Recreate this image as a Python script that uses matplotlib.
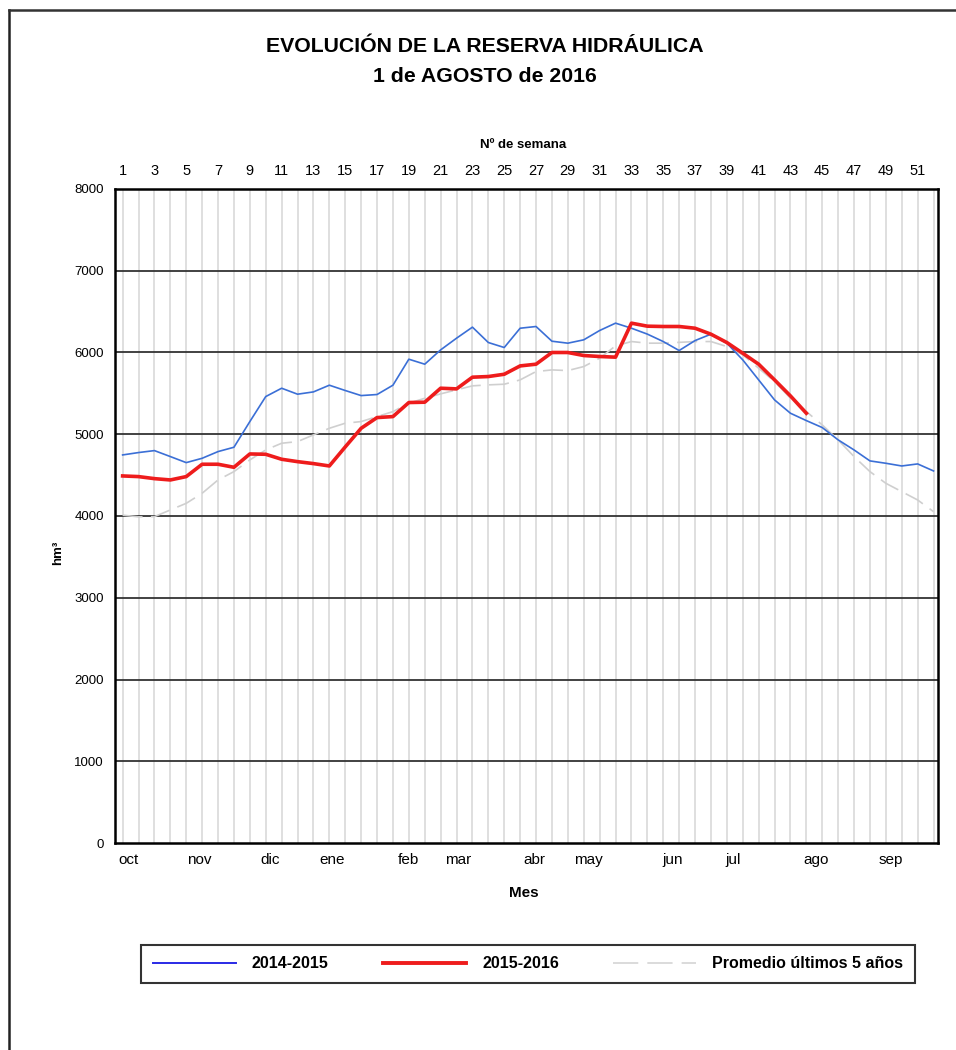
import matplotlib
matplotlib.use("Agg")
import matplotlib.pyplot as plt
from matplotlib.lines import Line2D
import numpy as np

NARROW = ["Liberation Sans Narrow", "Liberation Sans", "DejaVu Sans"]
plt.rcParams.update({"font.family": ["Liberation Sans", "DejaVu Sans"]})

weeks = list(range(1, 53))
week_ticks = list(range(1, 52, 2))

months = ["oct", "nov", "dic", "ene", "feb", "mar", "abr", "may", "jun", "jul", "ago", "sep"]
month_pos = [1.35, 5.8, 10.3, 14.2, 19.0, 22.1, 26.9, 30.3, 35.6, 39.4, 44.6, 49.3]

# reserva semanal (hm3)
res_1415 = [4747, 4776, 4800, 4727, 4653, 4706, 4788, 4841, 5155, 5461,
            5563, 5490, 5518, 5600, 5535, 5473, 5486, 5600, 5918, 5857,
            6032, 6175, 6310, 6122, 6061, 6297, 6318, 6138, 6114, 6155,
            6269, 6359, 6297, 6225, 6134, 6024, 6146, 6224, 6114, 5910,
            5665, 5420, 5257, 5167, 5082, 4931, 4808, 4674, 4645, 4612,
            4637, 4551]
res_1516 = [4490, 4482, 4457, 4441, 4482, 4633, 4633, 4596, 4759, 4755,
            4694, 4665, 4641, 4612, 4845, 5073, 5204, 5216, 5388, 5392,
            5563, 5555, 5698, 5706, 5734, 5836, 5857, 6000, 6000, 5963,
            5951, 5943, 6359, 6322, 6318, 6318, 6297, 6224, 6122, 5991,
            5857, 5665, 5469, 5257]
promedio = [4010, 3990, 3992, 4074, 4155, 4278, 4441, 4543, 4686, 4808,
            4890, 4910, 4992, 5073, 5135, 5155, 5216, 5277, 5380, 5440,
            5494, 5543, 5592, 5604, 5612, 5665, 5767, 5787, 5779, 5828,
            5930, 6081, 6134, 6114, 6114, 6124, 6134, 6134, 6073, 5971,
            5808, 5645, 5441, 5277, 5114, 4931, 4727, 4543, 4400, 4298,
            4196, 4053]

fig = plt.figure(figsize=(9.56, 10.5), dpi=100)
W, H = 956, 1050

ax = fig.add_axes([115 / W, 1 - 843 / H, 823 / W, 654 / H])
ax.set_xlim(0.52, 52.28)
ax.set_ylim(0, 8000)

for w in weeks:
    ax.axvline(w, color="#d6d6d6", lw=1.1, zorder=0)
for v in range(1000, 8000, 1000):
    ax.axhline(v, color="#333333", lw=1.3, zorder=1)

ax.plot(weeks, promedio, color="#cfcfcf", lw=1.2, ls=(0, (12, 5)), zorder=2,
        label="Promedio últimos 5 años")
ax.plot(weeks, res_1415, color="#3b6fd6", lw=1.2, zorder=3, label="2014-2015")
ax.plot(weeks[:len(res_1516)], res_1516, color="#ee1c1c", lw=2.6, zorder=4,
        label="2015-2016")

for s in ax.spines.values():
    s.set_linewidth(1.8)
    s.set_color("black")

ax.set_yticks(range(0, 8001, 1000))
ax.tick_params(axis="y", length=0, pad=8, labelsize=9.5)
ax.set_xticks(month_pos)
ax.set_xticklabels(months, fontsize=11)
ax.tick_params(axis="x", length=0, pad=7)

top = ax.twiny()
top.set_xlim(ax.get_xlim())
top.set_xticks(week_ticks)
top.set_xticklabels([str(w) for w in week_ticks], fontsize=10.5)
top.tick_params(axis="x", length=0, pad=8)
for s in top.spines.values():
    s.set_visible(False)

fig.text(485 / W, 1 - 46 / H, "EVOLUCIÓN DE LA RESERVA HIDRÁULICA",
         ha="center", va="center", fontsize=15.3, fontweight="bold")
fig.text(485 / W, 1 - 77 / H, "1 de AGOSTO de 2016",
         ha="center", va="center", fontsize=15.3, fontweight="bold")
fig.text(523 / W, 1 - 145 / H, "Nº de semana", ha="center", va="center",
         fontsize=9.5, fontweight="bold")
fig.text(524 / W, 1 - 893 / H, "Mes", ha="center", va="center",
         fontsize=11, fontweight="bold")
fig.text(58 / W, 1 - 553 / H, "hm³", ha="center", va="center", rotation=90,
         fontsize=9.5, fontweight="bold")

handles = [Line2D([], [], color="#2a2ae6", lw=1.4),
           Line2D([], [], color="#ee1c1c", lw=2.8),
           Line2D([], [], color="#d8d8d8", lw=1.3, ls=(0, (14, 5)))]
leg = fig.legend(handles, ["2014-2015", "2015-2016", "Promedio últimos 5 años"],
                 loc="center", bbox_to_anchor=(528 / W, 1 - 964 / H), ncol=3,
                 frameon=True, fancybox=False, edgecolor="black",
                 handlelength=5.2, handletextpad=1.0, columnspacing=3.4,
                 borderpad=0.75, prop={"weight": "bold", "size": 11.5})
leg.get_frame().set_linewidth(1.5)

# page frame (top and left edges only visible)
fig.add_artist(Line2D([9 / W, 9 / W], [0, 1 - 10 / H], color="#222222", lw=1.8,
                      transform=fig.transFigure))
fig.add_artist(Line2D([9 / W, 1], [1 - 10 / H, 1 - 10 / H], color="#333333", lw=1.8,
                      transform=fig.transFigure))

fig.savefig("out.png", dpi=100)
